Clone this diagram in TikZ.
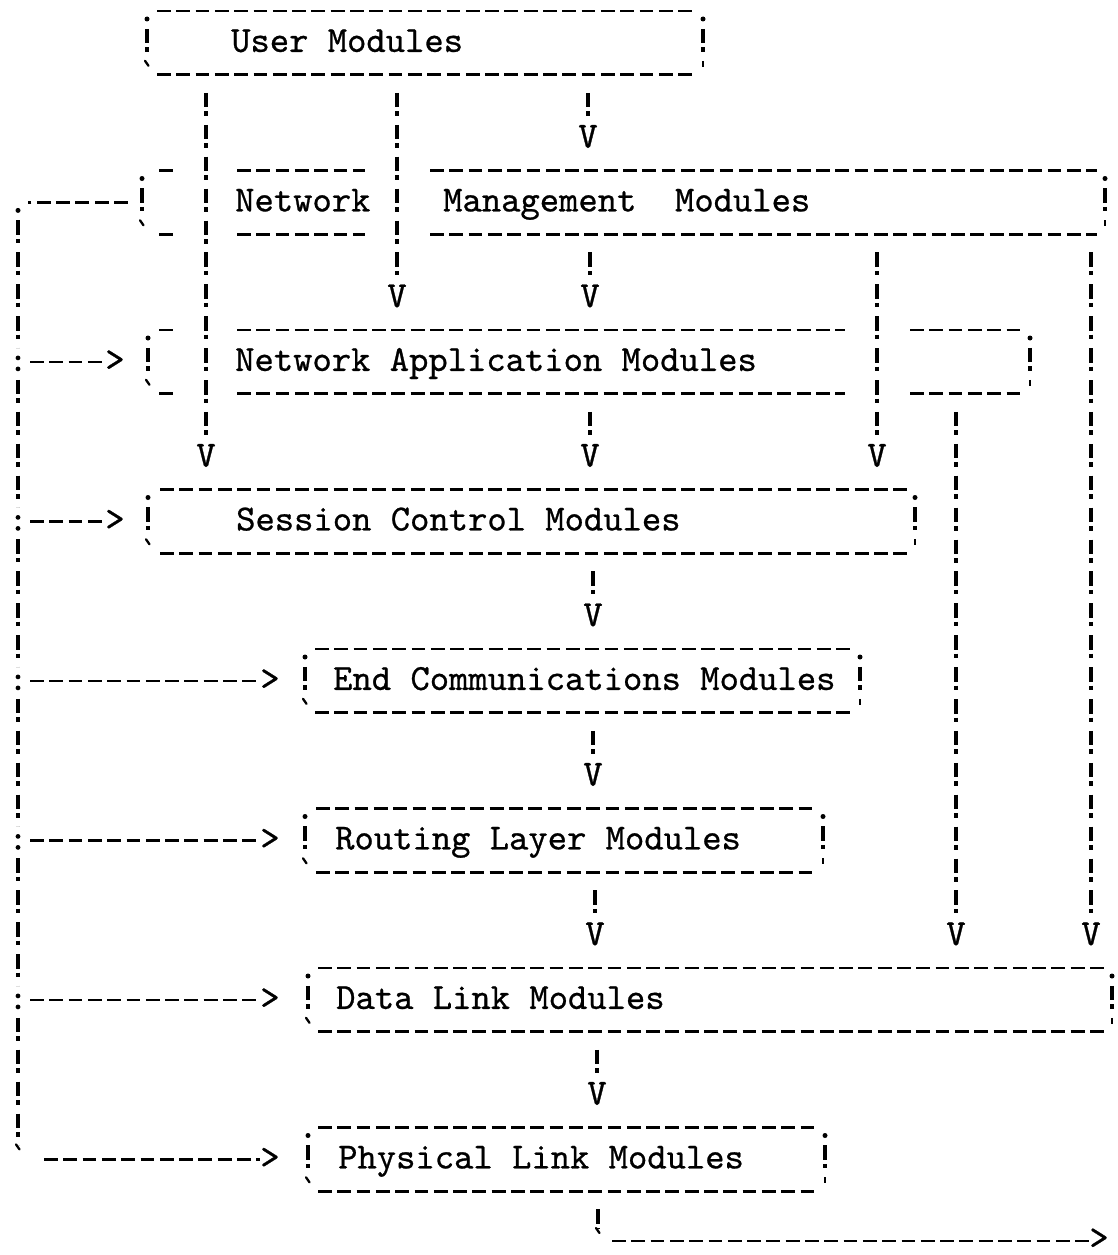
\documentclass[tikz,border=0pt]{standalone}
\usepackage{fontspec}
\setmonofont{lmmono10-regular.otf}[FakeBold=0.7]
\usetikzlibrary{calc}
\tikzset{
  declare function={rowy(\k)=11+31.9*\k;},
  hdash/.style={line width=2.8pt, dash pattern=on 13.8pt off 5.5pt},
  bang/.style={line width=3.4pt, dash pattern=on 14.5pt off 4pt on 4.5pt off 8.9pt},
  tick/.style={line width=2.3pt, line cap=round},
  glyph/.style={font=\fontsize{36.8}{40}\selectfont\ttfamily, inner sep=0pt, anchor=base},
  boxtext/.style={glyph, anchor=base west},
  boxarea/.style={rectangle, inner sep=0pt, minimum height=63.8pt},
}
\newcommand\mkbox[4]{\node[boxarea, minimum width={#3-#2}] (#1) at ({(#2+#3)/2},{rowy(#4+1)}) {};}
\newcommand\sides[3]{%
  \fill (#1,{rowy(#3)+8}) circle (2.5);
  \fill (#2,{rowy(#3)+8}) circle (2.5);
  \draw[bang] (#1,{rowy(#3+1)-14}) -- (#1,{rowy(#3+1)+9});
  \draw[bang] (#2,{rowy(#3+1)-14}) -- (#2,{rowy(#3+1)+9});
  \draw[tick] ({#1-2},{rowy(#3+2)-14}) -- ({#1+1.5},{rowy(#3+2)-9});
  \draw[line width=2.8pt] (#2,{rowy(#3+2)-14}) -- (#2,{rowy(#3+2)-8});
}
\newcommand\hseg[3]{\draw[hdash] (#2,{#1}) -- (#3,{#1});}
\newcommand\colonmark[1]{\fill (18,{rowy(#1)-4}) circle (2.4); \fill (18,{rowy(#1)+7}) circle (2.4);}
\begin{document}
\begin{tikzpicture}[x=1pt,y=-1pt]
\fill[white] (0,0) rectangle (1118,1255);
\useasboundingbox (0,0) rectangle (1118,1255);

% ---------- boxes ----------
\mkbox{um}{147}{703}{0}
\mkbox{nm}{142}{1105}{5}
\mkbox{na}{148}{1030}{10}
\mkbox{sc}{148}{915}{15}
\mkbox{ec}{305}{860}{20}
\mkbox{rl}{305}{823}{25}
\mkbox{dl}{308}{1112}{30}
\mkbox{pl}{308}{825}{35}

% frames
\sides{147}{703}{0}
\hseg{rowy(0)}{157}{695}\hseg{rowy(2)}{157}{695}

\sides{142}{1105}{5}
\hseg{rowy(5)}{159}{173}\hseg{rowy(5)}{237}{365}\hseg{rowy(5)}{430}{1097}
\hseg{rowy(7)}{159}{173}\hseg{rowy(7)}{237}{365}\hseg{rowy(7)}{430}{1097}

\sides{148}{1030}{10}
\hseg{rowy(10)}{159}{173}\hseg{rowy(10)}{237}{845}\hseg{rowy(10)}{910}{1022}
\hseg{rowy(12)}{159}{173}\hseg{rowy(12)}{237}{845}\hseg{rowy(12)}{910}{1022}

\sides{148}{915}{15}
\hseg{rowy(15)}{160}{907}\hseg{rowy(17)}{160}{907}

\sides{305}{860}{20}
\hseg{rowy(20)}{315}{852}\hseg{rowy(22)}{315}{852}

\sides{305}{823}{25}
\hseg{rowy(25)}{316}{815}\hseg{rowy(27)}{316}{815}

\sides{308}{1112}{30}
\hseg{rowy(30)}{318}{1104}\hseg{rowy(32)}{318}{1104}

\sides{308}{825}{35}
\hseg{rowy(35)}{318}{817}\hseg{rowy(37)}{318}{817}

% texts
\node[boxtext] (umt) at (231,{rowy(1)+9}) {User Modules};
\node[boxtext] (nmt1) at (235,{rowy(6)+9}) {Network};
\node[boxtext] (nmt2) at (443,{rowy(6)+9}) {Management\ \ Modules};
\node[boxtext] (nat) at (235,{rowy(11)+9}) {Network Application Modules};
\node[boxtext] (sct) at (236,{rowy(16)+9}) {Session Control Modules};
\node[boxtext] (ect) at (333,{rowy(21)+9}) {End Communications Modules};
\node[boxtext] (rlt) at (335,{rowy(26)+9}) {Routing Layer Modules};
\node[boxtext] (dlt) at (336,{rowy(31)+9}) {Data Link Modules};
\node[boxtext] (plt) at (338,{rowy(36)+9}) {Physical Link Modules};

% ---------- arrow heads (V) ----------
\node[glyph] (va) at (206,{rowy(14)+9}) {V};
\node[glyph] (vb) at (397,{rowy(9)+9}) {V};
\node[glyph] (vc) at (588,{rowy(4)+9}) {V};
\node[glyph] (vd) at (590,{rowy(9)+9}) {V};
\node[glyph] (ve) at (877,{rowy(14)+9}) {V};
\node[glyph] (vf) at (1091,{rowy(29)+9}) {V};
\node[glyph] (vg) at (956,{rowy(29)+9}) {V};
\node[glyph] (vh) at (590,{rowy(14)+9}) {V};
\node[glyph] (vi) at (593,{rowy(19)+9}) {V};
\node[glyph] (vj) at (593,{rowy(24)+9}) {V};
\node[glyph] (vk) at (595,{rowy(29)+9}) {V};
\node[glyph] (vl) at (597,{rowy(34)+9}) {V};

% ---------- vertical connectors ----------
\draw[bang, shorten <=17.9pt, shorten >=1pt] (um.south -| va) -- (va.north);
\draw[bang, shorten <=17.9pt, shorten >=1pt] (um.south -| vb) -- (vb.north);
\draw[bang, shorten <=17.9pt, shorten >=1pt] (um.south -| vc) -- (vc.north);
\draw[bang, shorten <=17.9pt, shorten >=1pt] (nm.south -| vd) -- (vd.north);
\draw[bang, shorten <=17.9pt, shorten >=1pt] (nm.south -| ve) -- (ve.north);
\draw[bang, shorten <=17.9pt, shorten >=1pt] (nm.south -| vf) -- (vf.north);
\draw[bang, shorten <=17.9pt, shorten >=1pt] (na.south -| vg) -- (vg.north);
\draw[bang, shorten <=17.9pt, shorten >=1pt] (na.south -| vh) -- (vh.north);
\draw[bang, shorten <=17.9pt, shorten >=1pt] (sc.south -| vi) -- (vi.north);
\draw[bang, shorten <=17.9pt, shorten >=1pt] (ec.south -| vj) -- (vj.north);
\draw[bang, shorten <=17.9pt, shorten >=1pt] (rl.south -| vk) -- (vk.north);
\draw[bang, shorten <=17.9pt, shorten >=1pt] (dl.south -| vl) -- (vl.north);

% ---------- management bus on the left ----------
\coordinate (bc) at (18,{rowy(6)});
\coordinate (b11) at (18,{rowy(11)});
\coordinate (b16) at (18,{rowy(16)});
\coordinate (b21) at (18,{rowy(21)});
\coordinate (b26) at (18,{rowy(26)});
\coordinate (b31) at (18,{rowy(31)});
\coordinate (bb) at (18,{rowy(36)});
\node[glyph] (gna) at (115,{rowy(11)+9}) {>};
\node[glyph] (gsc) at (115,{rowy(16)+9}) {>};
\node[glyph] (gec) at (270,{rowy(21)+9}) {>};
\node[glyph] (grl) at (270,{rowy(26)+9}) {>};
\node[glyph] (gdl) at (270,{rowy(31)+9}) {>};
\node[glyph] (gpl) at (270,{rowy(36)+9}) {>};

\draw[hdash, shorten <=14pt, shorten >=10pt] (nm.west) -- (bc);
\fill (18,{rowy(6)+8}) circle (2.5);
\draw[bang, shorten <=17.9pt, shorten >=14pt] (bc) -- (b11);
\draw[bang, shorten <=17.9pt, shorten >=14pt] (b11) -- (b16);
\draw[bang, shorten <=17.9pt, shorten >=14pt] (b16) -- (b21);
\draw[bang, shorten <=17.9pt, shorten >=14pt] (b21) -- (b26);
\draw[bang, shorten <=17.9pt, shorten >=14pt] (b26) -- (b31);
\draw[bang, shorten <=17.9pt, shorten >=14pt] (b31) -- (bb);
\colonmark{11}\colonmark{16}\colonmark{21}\colonmark{26}\colonmark{31}
\draw[tick] (16,{rowy(36)-15}) -- (19.5,{rowy(36)-10});

\draw[hdash, shorten <=12pt] (b11) -- (gna.west |- b11);
\draw[hdash, shorten <=12pt] (b16) -- (gsc.west |- b16);
\draw[hdash, shorten <=12pt] (b21) -- (gec.west |- b21);
\draw[hdash, shorten <=12pt] (b26) -- (grl.west |- b26);
\draw[hdash, shorten <=12pt] (b31) -- (gdl.west |- b31);
\draw[hdash, shorten <=26pt] (bb) -- (gpl.west |- bb);

% ---------- output of the physical link ----------
\coordinate (pc) at (598,1241);
\node[glyph] (gout) at (1099,1249) {>};
\draw[bang, shorten <=17.9pt, shorten >=12pt] (pl.south -| pc) -- (pc);
\draw[tick] (596,1228) -- (599.5,1233);
\draw[hdash, shorten <=14pt] (pc) -- (gout.west |- pc);
\end{tikzpicture}
\end{document}
